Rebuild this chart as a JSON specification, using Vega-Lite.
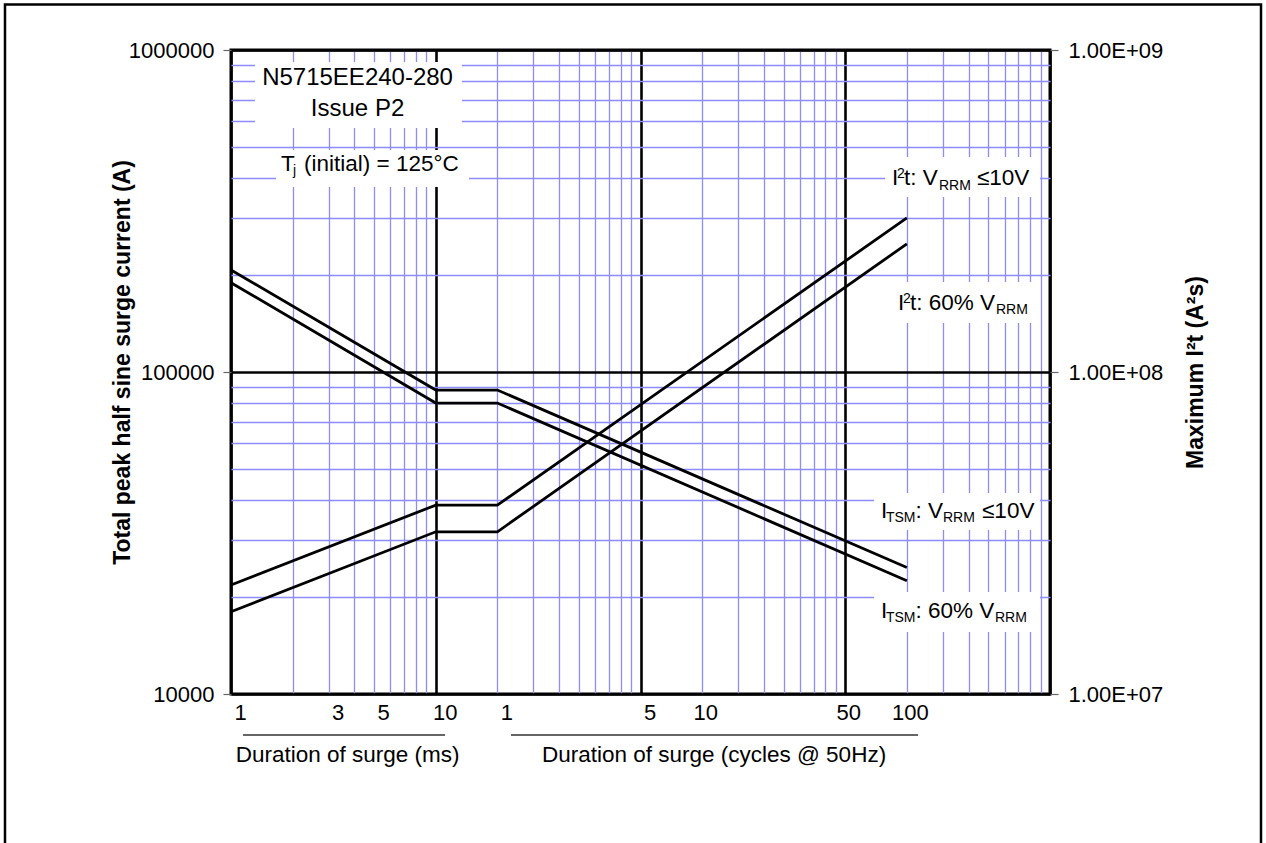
{
  "$schema": "https://vega.github.io/schema/vega-lite/v6.json",
  "width": 819,
  "height": 644,
  "autosize": {"type": "none"},
  "padding": {"left": 231, "top": 50, "right": 216, "bottom": 149},
  "background": "white",
  "config": {
    "font": "Liberation Sans",
    "view": {"stroke": "black", "strokeWidth": 3}
  },
  "datasets": {
    "itsm": [
      {"s": "a", "t": 1, "v": 207400}, {"s": "a", "t": 10, "v": 87900}, {"s": "a", "t": 20, "v": 87900}, {"s": "a", "t": 2000, "v": 24700},
      {"s": "b", "t": 1, "v": 189400}, {"s": "b", "t": 10, "v": 80100}, {"s": "b", "t": 20, "v": 80100}, {"s": "b", "t": 2000, "v": 22480}
    ],
    "i2t": [
      {"s": "a", "t": 1, "i2t": 21800000}, {"s": "a", "t": 10, "i2t": 38600000}, {"s": "a", "t": 20, "i2t": 38600000}, {"s": "a", "t": 2000, "i2t": 301000000},
      {"s": "b", "t": 1, "i2t": 18000000}, {"s": "b", "t": 10, "i2t": 31900000}, {"s": "b", "t": 20, "i2t": 31900000}, {"s": "b", "t": 2000, "i2t": 250000000}
    ],
    "boxes": [
      {"t": 1.3096, "t2": 13.43, "v": 917900, "v2": 572500},
      {"t": 1.659, "t2": 14.54, "v": 489200, "v2": 375400},
      {"t": 1564, "t2": 8937, "v": 465300, "v2": 349500},
      {"t": 1711, "t2": 8937, "v": 190300, "v2": 142000},
      {"t": 1382, "t2": 8937, "v": 42090, "v2": 32310},
      {"t": 1382, "t2": 8937, "v": 20730, "v2": 15580}
    ],
    "mainText": [
      {"text": "I", "t": 1691.5, "v": 380700},
      {"text": "t: V", "t": 1936.4, "v": 380700},
      {"text": "≤10V", "t": 4400, "v": 380700},
      {"text": "I", "t": 1809.6, "v": 155800},
      {"text": "t: 60% V", "t": 2071, "v": 155800},
      {"text": "I", "t": 1495, "v": 35210},
      {"text": ": V", "t": 2205, "v": 35210},
      {"text": "≤10V", "t": 4656, "v": 35210},
      {"text": "I", "t": 1495, "v": 17220},
      {"text": ": 60% V", "t": 2205, "v": 17220},
      {"text": "T", "t": 1.754, "v": 421000},
      {"text": "(initial) = 125°C", "t": 2.272, "v": 421000}
    ],
    "smallText": [
      {"text": "2", "t": 1789, "v": 400400},
      {"text": "RRM", "t": 2870, "v": 367400},
      {"text": "2", "t": 1914.4, "v": 163800},
      {"text": "RRM", "t": 5448, "v": 151400},
      {"text": "TSM", "t": 1581, "v": 34220},
      {"text": "RRM", "t": 3002, "v": 34220},
      {"text": "TSM", "t": 1581, "v": 16730},
      {"text": "RRM", "t": 5387, "v": 16730},
      {"text": "j", "t": 2.009, "v": 409100}
    ],
    "boxText": [
      {"text": "N5715EE240-280", "t": 4.15, "v": 778500},
      {"text": "Issue P2", "t": 4.15, "v": 623700}
    ],
    "centerText": [
      {"text": "Duration of surge (ms)", "t": 3.71, "v": 6148},
      {"text": "Duration of surge (cycles @ 50Hz)", "t": 228.6, "v": 6148}
    ],
    "rules": [
      {"t": 1.145, "t2": 11.1, "v": 7465},
      {"t": 23.3, "t2": 2266, "v": 7465}
    ],
    "frame": [
      {"t": 0.07873, "t2": 107280, "v": 1384800, "v2": 3051}
    ]
  },
  "layer": [
    {
      "layer": [
        {
          "data": {"name": "boxes"},
          "mark": {"type": "rect", "fill": "white", "stroke": null},
          "encoding": {
            "x": {"field": "t", "type": "quantitative", "scale": {"type": "log", "domain": [1, 10000], "nice": false}},
            "x2": {"field": "t2"},
            "y": {"field": "v", "type": "quantitative", "scale": {"type": "log", "domain": [10000, 1000000], "nice": false}},
            "y2": {"field": "v2"}
          }
        },
        {
          "data": {"name": "itsm"},
          "mark": {"type": "line", "color": "black", "strokeWidth": 2.8},
          "encoding": {
            "x": {
              "field": "t", "type": "quantitative",
              "scale": {"type": "log", "domain": [1, 10000], "nice": false},
              "axis": {
                "title": null,
                "values": [1, 2, 3, 4, 5, 6, 7, 8, 9, 10, 20, 30, 40, 50, 60, 70, 80, 90, 100, 200, 300, 400, 500, 600, 700, 800, 900, 1000, 2000, 3000, 4000, 5000, 6000, 7000, 8000, 9000, 10000],
                "labelExpr": "datum.value==1?'1':datum.value==3?'3':datum.value==5?'5':datum.value==10?'10':datum.value==20?'1':datum.value==100?'5':datum.value==200?'10':datum.value==1000?'50':datum.value==2000?'100':''",
                "ticks": false,
                "domain": false,
                "labelFontSize": 22,
                "labelColor": "black",
                "labelPadding": 8,
                "labelOverlap": false,
                "labelFlush": false,
                "labelBound": false,
                "labelOffset": {"condition": {"test": "datum.value<=100", "value": 9}, "value": 3},
                "grid": true,
                "gridOpacity": 1,
                "gridColor": {"condition": {"test": "datum.value==1||datum.value==10||datum.value==100||datum.value==1000||datum.value==10000", "value": "black"}, "value": "#8c8cff"},
                "gridWidth": {"condition": {"test": "datum.value==1||datum.value==10||datum.value==100||datum.value==1000||datum.value==10000", "value": 2.6}, "value": 1.3}
              }
            },
            "y": {
              "field": "v", "type": "quantitative",
              "scale": {"type": "log", "domain": [10000, 1000000], "nice": false},
              "axis": {
                "orient": "left",
                "values": [10000, 20000, 30000, 40000, 50000, 60000, 70000, 80000, 90000, 100000, 200000, 300000, 400000, 500000, 600000, 700000, 800000, 900000, 1000000],
                "labelExpr": "datum.value==10000||datum.value==100000||datum.value==1000000?''+datum.value:''",
                "domain": false,
                "tickSize": 8,
                "tickWidth": 1.2,
                "tickColor": {"condition": {"test": "datum.value==10000||datum.value==100000||datum.value==1000000", "value": "#666666"}, "value": "rgba(0,0,0,0)"},
                "labelFontSize": 22,
                "labelColor": "black",
                "labelPadding": 9,
                "labelOverlap": false,
                "labelFlush": false,
                "labelBound": false,
                "grid": true,
                "gridOpacity": 1,
                "gridColor": {"condition": {"test": "datum.value==10000||datum.value==100000||datum.value==1000000", "value": "black"}, "value": "#8c8cff"},
                "gridWidth": {"condition": {"test": "datum.value==10000||datum.value==100000||datum.value==1000000", "value": 2.6}, "value": 1.3},
                "title": "Total peak half sine surge current (A)",
                "titleFontSize": 23,
                "titleFontWeight": "bold",
                "titleColor": "black",
                "titleAngle": -90,
                "titleX": -109,
                "titleY": 312,
                "titleAlign": "center",
                "titleBaseline": "middle"
              }
            },
            "detail": {"field": "s"}
          }
        },
        {
          "data": {"name": "mainText"},
          "mark": {"type": "text", "align": "left", "baseline": "alphabetic", "fontSize": 22.5, "color": "black"},
          "encoding": {
            "x": {"field": "t", "type": "quantitative", "scale": {"type": "log", "domain": [1, 10000], "nice": false}},
            "y": {"field": "v", "type": "quantitative", "scale": {"type": "log", "domain": [10000, 1000000], "nice": false}},
            "text": {"field": "text"}
          }
        },
        {
          "data": {"name": "smallText"},
          "mark": {"type": "text", "align": "left", "baseline": "alphabetic", "fontSize": 14, "color": "black"},
          "encoding": {
            "x": {"field": "t", "type": "quantitative", "scale": {"type": "log", "domain": [1, 10000], "nice": false}},
            "y": {"field": "v", "type": "quantitative", "scale": {"type": "log", "domain": [10000, 1000000], "nice": false}},
            "text": {"field": "text"}
          }
        },
        {
          "data": {"name": "boxText"},
          "mark": {"type": "text", "align": "center", "baseline": "alphabetic", "fontSize": 24, "color": "black"},
          "encoding": {
            "x": {"field": "t", "type": "quantitative", "scale": {"type": "log", "domain": [1, 10000], "nice": false}},
            "y": {"field": "v", "type": "quantitative", "scale": {"type": "log", "domain": [10000, 1000000], "nice": false}},
            "text": {"field": "text"}
          }
        },
        {
          "data": {"name": "centerText"},
          "mark": {"type": "text", "align": "center", "baseline": "alphabetic", "fontSize": 22.5, "color": "black"},
          "encoding": {
            "x": {"field": "t", "type": "quantitative", "scale": {"type": "log", "domain": [1, 10000], "nice": false}},
            "y": {"field": "v", "type": "quantitative", "scale": {"type": "log", "domain": [10000, 1000000], "nice": false}},
            "text": {"field": "text"}
          }
        },
        {
          "data": {"name": "rules"},
          "mark": {"type": "rule", "color": "#333333", "strokeWidth": 1.5},
          "encoding": {
            "x": {"field": "t", "type": "quantitative", "scale": {"type": "log", "domain": [1, 10000], "nice": false}},
            "x2": {"field": "t2"},
            "y": {"field": "v", "type": "quantitative", "scale": {"type": "log", "domain": [10000, 1000000], "nice": false}}
          }
        },
        {
          "data": {"name": "frame"},
          "mark": {"type": "rect", "fill": "transparent", "stroke": "black", "strokeWidth": 2.5},
          "encoding": {
            "x": {"field": "t", "type": "quantitative", "scale": {"type": "log", "domain": [1, 10000], "nice": false}},
            "x2": {"field": "t2"},
            "y": {"field": "v", "type": "quantitative", "scale": {"type": "log", "domain": [10000, 1000000], "nice": false}},
            "y2": {"field": "v2"}
          }
        }
      ]
    },
    {
      "data": {"name": "i2t"},
      "mark": {"type": "line", "color": "black", "strokeWidth": 2.8},
      "encoding": {
        "x": {"field": "t", "type": "quantitative", "scale": {"type": "log", "domain": [1, 10000], "nice": false}},
        "y": {
          "field": "i2t", "type": "quantitative",
          "scale": {"type": "log", "domain": [10000000, 1000000000], "nice": false},
          "axis": {
            "orient": "right",
            "values": [10000000, 100000000, 1000000000],
            "labelExpr": "'1.00E+0' + round(log(datum.value)/LN10)",
            "grid": false,
            "domain": false,
            "tickSize": 8,
            "tickWidth": 1.2,
            "tickColor": "#666666",
            "labelFontSize": 22,
            "labelColor": "black",
            "labelPadding": 10,
            "labelOverlap": false,
            "labelFlush": false,
            "labelBound": false,
            "title": "Maximum I²t (A²s)",
            "titleFontSize": 23,
            "titleFontWeight": "bold",
            "titleColor": "black",
            "titleAngle": -90,
            "titleX": 145,
            "titleY": 322,
            "titleAlign": "center",
            "titleBaseline": "middle"
          }
        },
        "detail": {"field": "s"}
      }
    }
  ],
  "resolve": {"scale": {"y": "independent"}}
}
